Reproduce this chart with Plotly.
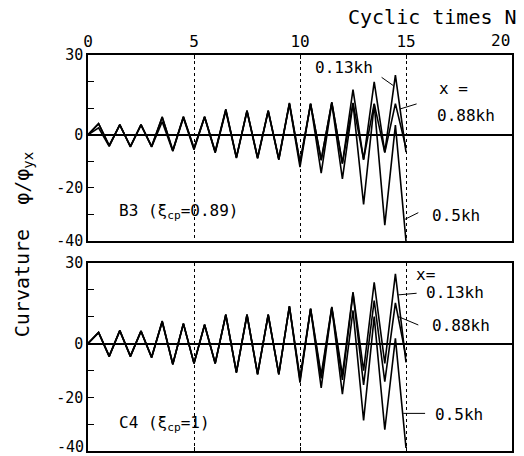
import plotly.graph_objects as go

# half-cycle positions (cycle times N)
cycles = [0, 0.5, 1, 1.5, 2, 2.5, 3, 3.5, 4, 4.5, 5, 5.5, 6, 6.5, 7, 7.5,
          8, 8.5, 9, 9.5, 10, 10.5, 11, 11.5, 12, 12.5, 13, 13.5, 14, 14.5, 15]

# Specimen B3 (xi_cp = 0.89)
b3_013 = [0, 4.2, -4.2, 3.8, -4.5, 3.8, -4.5, 6.8, -6.0, 6.9, -5.2, 6.9, -6.5, 9.6, -8.6, 9.2,
          -8.7, 9.2, -9.2, 12.0, -10.5, 11.7, -9.6, 12.3, -10.9, 17.0, -9.4, 19.9, -6.5, 22.4, -6.5]
b3_088 = [0, 4.2, -4.0, 3.6, -4.3, 3.6, -4.3, 6.5, -5.8, 6.7, -5.0, 6.7, -6.3, 9.4, -8.4, 9.0,
          -8.5, 9.0, -9.0, 11.8, -10.5, 11.5, -9.4, 12.0, -10.7, 12.0, -9.2, 11.7, -6.7, 11.7, -5.0]
b3_050 = [0, 2.6, -4.4, 3.8, -4.6, 3.8, -4.6, 4.9, -6.2, 6.4, -5.6, 6.6, -6.8, 9.0, -8.8, 8.8,
          -9.0, 8.8, -9.4, 11.5, -12.2, 11.7, -14.4, 12.0, -16.6, 11.8, -26.2, 11.5, -34.0, 3.6, -40.0]

# Specimen C4 (xi_cp = 1)
c4_013 = [0, 4.1, -4.8, 4.9, -4.8, 4.7, -5.2, 8.4, -7.7, 7.5, -7.4, 7.1, -7.4, 10.8, -10.7, 10.8,
          -11.4, 10.8, -11.4, 13.9, -12.8, 13.0, -11.7, 13.6, -11.7, 19.1, -10.1, 22.8, -7.4, 25.9, -7.0]
c4_088 = [0, 4.1, -4.6, 4.7, -4.6, 4.5, -5.0, 8.2, -7.5, 7.3, -7.2, 6.9, -7.2, 10.6, -10.5, 10.6,
          -11.2, 10.6, -11.2, 13.7, -13.5, 12.8, -13.0, 13.4, -13.5, 18.6, -15.4, 16.0, -14.2, 15.1, -5.0]
c4_050 = [0, 4.0, -4.9, 4.8, -4.9, 4.6, -5.3, 8.0, -7.8, 7.4, -7.5, 7.0, -7.5, 10.7, -10.9, 10.7,
          -11.6, 10.7, -11.6, 13.8, -14.6, 13.0, -16.5, 13.4, -18.8, 12.3, -28.6, 10.0, -32.1, 1.9, -38.9]

x_ticks = [0, 5, 10, 15]
x_ticktext = ["0", "5", "10", "15"]
y_ticks = [30, 0, -20, -40]
y_ticktext = ["30", "0", "-20", "-40"]
y2_ticks = [30, 0, -20]
y2_ticktext = ["30", "0", "-20"]

FONT = "DejaVu Sans Mono, Liberation Mono, monospace"

fig = go.Figure()
for ys, name in [(b3_013, "0.13kh"), (b3_088, "0.88kh"), (b3_050, "0.5kh")]:
    fig.add_trace(go.Scatter(x=cycles, y=ys, mode="lines", name=name,
                             line=dict(color="black", width=1.6),
                             xaxis="x", yaxis="y", showlegend=False))
for ys, name in [(c4_013, "0.13kh"), (c4_088, "0.88kh"), (c4_050, "0.5kh")]:
    fig.add_trace(go.Scatter(x=cycles, y=ys, mode="lines", name=name,
                             line=dict(color="black", width=1.6),
                             xaxis="x2", yaxis="y2", showlegend=False))

xcommon = dict(range=[0, 20], tickvals=x_ticks, ticktext=x_ticktext, showgrid=True,
               gridcolor="black", griddash="dot", gridwidth=1, showline=True,
               linecolor="black", linewidth=1.5, mirror=True, ticks="inside",
               ticklen=4, tickcolor="black", zeroline=False, automargin=False)
ycommon = dict(range=[-40, 30], showgrid=False, showline=True, linecolor="black",
               linewidth=1.5, mirror=True, ticks="inside", ticklen=6,
               tickcolor="black", automargin=False,
               minor=dict(dtick=10, tick0=0, ticks="inside", ticklen=6,
                          tickcolor="black", showgrid=False),
               zeroline=True, zerolinecolor="black", zerolinewidth=1.5,
               tickfont=dict(family=FONT, size=15, color="black"))

fig.update_layout(
    width=524, height=456,
    margin=dict(l=88, r=12, t=55, b=5, autoexpand=False),
    paper_bgcolor="white", plot_bgcolor="white",
    xaxis=dict(**xcommon, side="top", anchor="y",
               tickfont=dict(family=FONT, size=16, color="black")),
    yaxis=dict(**ycommon, tickvals=y_ticks, ticktext=y_ticktext,
               domain=[0.530, 1.0], anchor="x"),
    xaxis2=dict(**xcommon, anchor="y2", showticklabels=False),
    yaxis2=dict(**ycommon, tickvals=y2_ticks, ticktext=y2_ticktext,
                domain=[0.0, 0.475], anchor="x2"),
    font=dict(family=FONT, color="black"),
)

ann = []
def txt(x, y, s, xref, yref, size=16, xanchor="center"):
    ann.append(dict(x=x, y=y, text=s, xref=xref, yref=yref, showarrow=False,
                    xanchor=xanchor, yanchor="middle",
                    font=dict(family=FONT, size=size, color="black")))

# top panel labels
txt(12.08, 25.3, "0.13kh", "x", "y")
txt(17.26, 17.4, "x =", "x", "y")
txt(17.83, 7.2, "0.88kh", "x", "y")
txt(17.36, -30.2, "0.5kh", "x", "y")
txt(1.37, -28.7, "B3 (ξ<sub>cp</sub>=0.89)", "x", "y", size=16, xanchor="left")
# bottom panel labels
txt(15.94, 25.5, "x=", "x2", "y2")
txt(17.33, 19.0, "0.13kh", "x2", "y2")
txt(17.58, 6.6, "0.88kh", "x2", "y2")
txt(17.5, -26.6, "0.5kh", "x2", "y2")
txt(1.37, -29.7, "C4 (ξ<sub>cp</sub>=1)", "x2", "y2", size=16, xanchor="left")

# last top tick label, pulled inside the frame as in the reference
ann.append(dict(x=20, y=1.0, xref="x", yref="paper", showarrow=False, text="20",
                xanchor="right", yanchor="bottom", yshift=3,
                font=dict(family=FONT, size=16, color="black")))
# lowest tick label of the bottom panel, nudged up so it stays on the page
ann.append(dict(x=0, y=-40, xref="x2", yref="y2", showarrow=False, text="-40",
                xanchor="right", yanchor="middle", xshift=-2, yshift=4,
                font=dict(family=FONT, size=15, color="black")))

# axis titles
ann.append(dict(x=1.017, y=1.096, xref="paper", yref="paper", showarrow=False,
                text="Cyclic times N", xanchor="right", yanchor="middle",
                font=dict(family=FONT, size=20, color="black")))
ann.append(dict(x=-0.153, y=0.52, xref="paper", yref="paper", showarrow=False,
                text="Curvature  φ/φ<sub>yx</sub>", textangle=-90,
                xanchor="center", yanchor="middle",
                font=dict(family=FONT, size=20, color="black")))
fig.update_layout(annotations=ann)

# leader lines from labels to curves
leaders = [
    ("x", "y", 13.85, 21.6, 14.4, 18.5),
    ("x", "y", 15.5, 11.6, 14.72, 9.7),
    ("x", "y", 15.58, -29.3, 14.95, -31.8),
    ("x2", "y2", 15.5, 18.7, 14.64, 18.1),
    ("x2", "y2", 15.58, 6.9, 14.64, 10.0),
    ("x2", "y2", 15.9, -26.0, 14.87, -26.0),
]
for xr, yr, x0, y0, x1, y1 in leaders:
    fig.add_shape(type="line", xref=xr, yref=yr, x0=x0, y0=y0, x1=x1, y1=y1,
                  line=dict(color="black", width=1))

fig.write_html("out.html",
               config={"displayModeBar": False},
               post_script="document.body.style.margin='0';"
                           "document.body.style.overflow='hidden';")
